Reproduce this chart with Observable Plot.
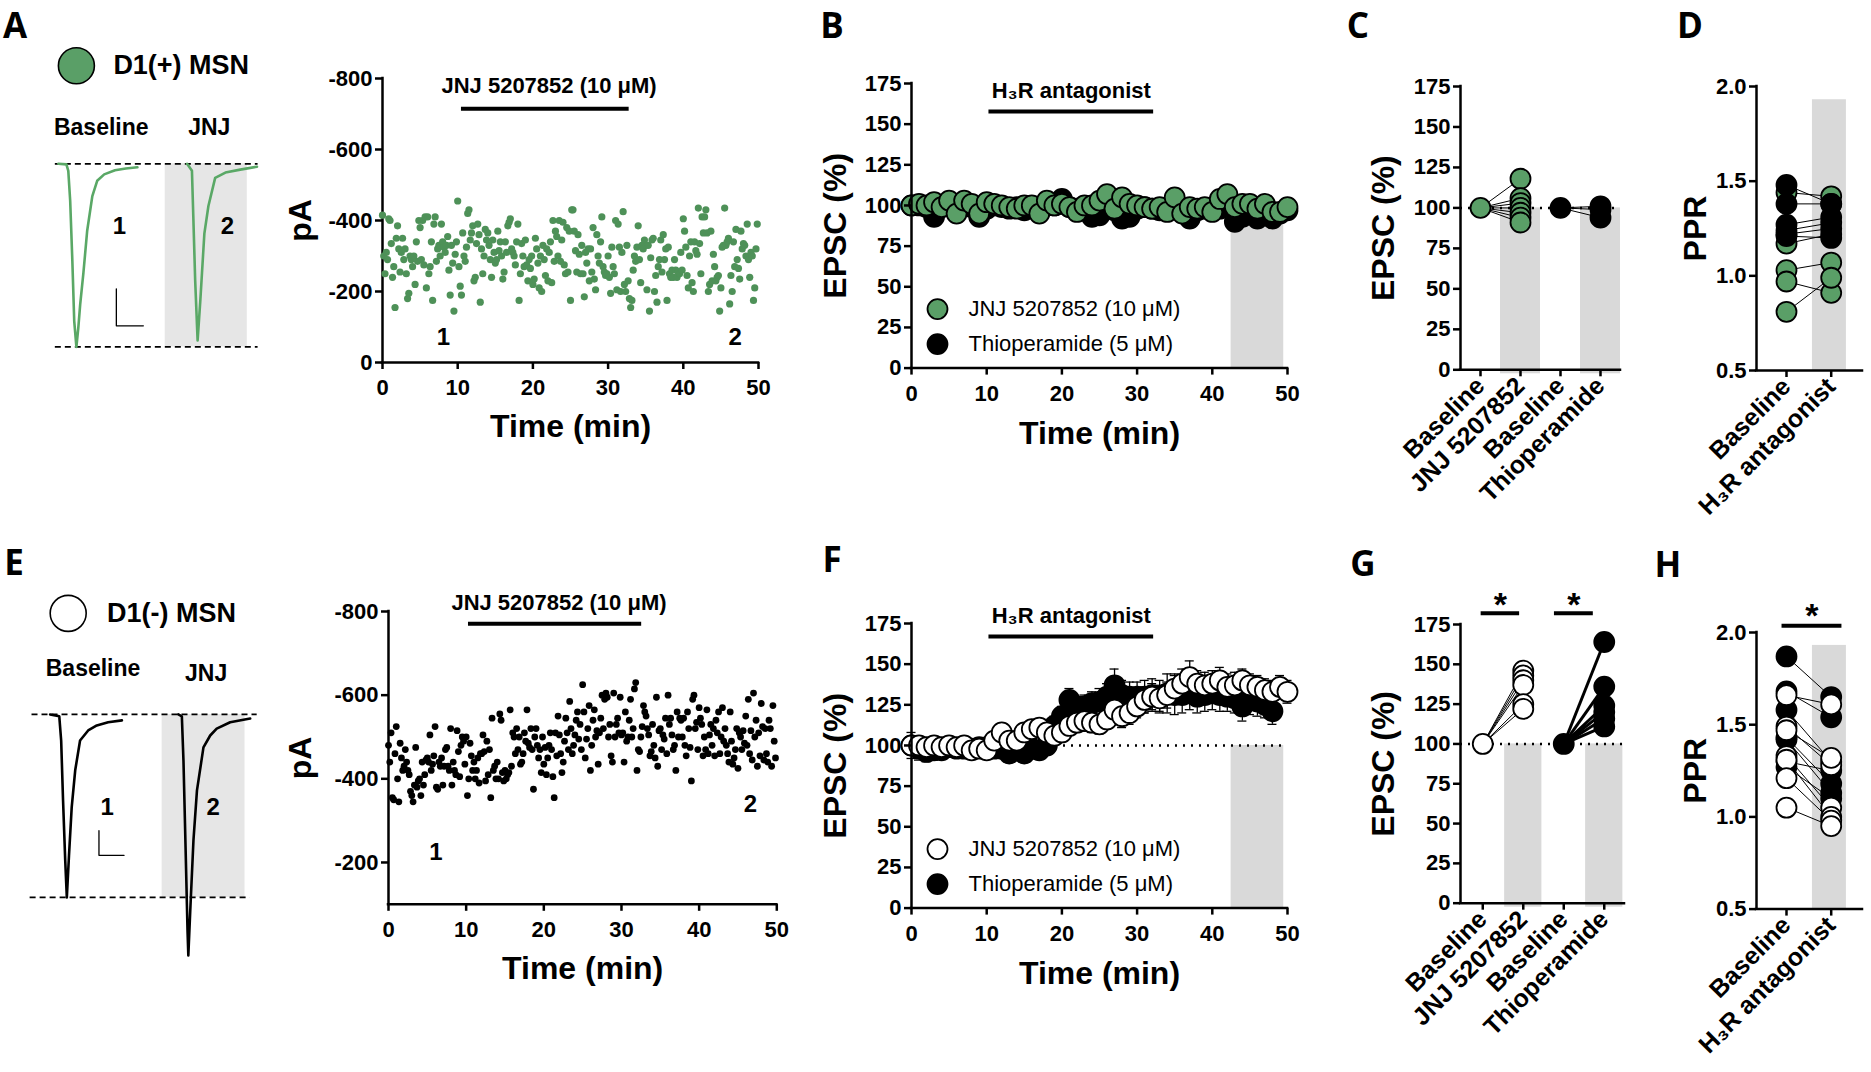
<!DOCTYPE html>
<html><head><meta charset="utf-8">
<script src="https://cdn.jsdelivr.net/npm/d3@7"></script>
<script src="https://cdn.jsdelivr.net/npm/@observablehq/plot@0.6"></script>
<style>
body{margin:0;background:#fff;}
#fig{position:relative;width:1871px;height:1072px;overflow:hidden;background:#fff;}
</style></head><body><div id="fig"></div>
<script>
// ---------------- DATA ----------------
const sweepMin = 1/6; // one sweep every 10 s
const timeTicks = [0,10,20,30,40,50];
// Panel A: D1(+) MSN EPSC amplitude (pA magnitude, plotted negative-up)
const ampA = [
415,300,250,310,290,405, 400,335,240,270,155,350, 385,320,255,310,350,290, 320,250,180,195,300,290,
270,300,220,340,285,400, 380,290,400,275,410,210, 410,250,270,340,175,390, 410,285,320,330,300,390,
340,325,310,330,355,260, 190,330,280,145,305,340, 455,270,215,190,365,300, 285,325,420,430,345,365,
385,230,240,335,390,360, 170,320,250,300,375,345, 365,330,290,240,345,310, 280,290,370,315,340,300,
235,255,340,310,385,395, 405,320,310,300,275,340, 390,175,250,335,300,270, 345,275,230,290,265,300,
220,235,350,320,280,210, 300,200,330,290,245,320, 230,310,340,225,400,285, 370,355,300,400,285,345,
395,275,250,380,255,370, 175,430,430,370,315,255, 360,305,250,330,250,185, 310,280,320,230,320,255,
380,235,205,360,300,280, 340,410,270,255,245,250, 300,240,195,325,270,250, 400,205,390,325,200,310,
425,220,200,330,230,180, 155,175,260,300,285,325, 385,290,225,330,320,345, 330,205,330,145,295,345,
350,200,245,170,270,290, 345,255,360,290,320,175, 325,250,240,260,240,290, 260,240,255,250,310,260,
405,370,325,245,210,300, 340,225,200,340,315,305, 435,335,250,410,365,410, 430,365,200,220,370,230,
305,270,230,240,245,145, 210,325,330,435,330,340, 350,165,245,200,340,270, 375,290,265,235,370,320,
335,330,300,390,290,240, 310,300,175,210,320,390];
// Panel E: D1(-) MSN EPSC amplitude (pA magnitude)
const ampE = [
480,440,510,355,350,460, 525,400,345,485,450,420, 430,470,440,420,410,370, 360,345,385,475,380,395,
400,360,440,385,410,445, 450,440,505,420,435,455, 525,380,375,440,430,450, 385,430,470,475,430,420,
520,385,440,420,410,515, 465,405,480,500,490,435, 500,360,400,485,455,420, 440,400,420,450,390,460,
460,505,465,395,490,410, 470,355,545,420,430,400, 440,400,555,540,415,395, 420,400,410,415,565,430,
510,500,460,520,470,500, 435,440,460,510,490,565, 485,475,520,470,375,500, 520,480,450,470,415,500,
435,475,410,450,480,510, 470,405,355,510,455,550, 505,460,415,440,490,545, 510,470,585,520,460,480,
505,540,560,495,530,470, 625,560,450,495,520,575, 420,480,540,565,500,515, 435,510,545,600,520,590,
605,595,500,530,455,440, 605,500,530,545,510,595, 505,510,440,560,490,500, 540,590,500,520,615,630,
420,470,465,500,525,575, 560,550,520,505,455,465, 530,480,450,595,430,515, 520,470,505,495,545,460,
600,530,545,505,470,480, 420,560,500,545,540,500, 545,480,455,560,520,475, 395,590,600,520,535,470,
570,545,530,455,500,470, 565,460,505,530,480,520, 455,540,510,560,460,500, 570,490,520,480,460,440,
560,490,435,450,470,520, 425,510,500,470,515,485, 550,480,590,460,515,445, 605,500,540,430,510,455,
580,525,445,520,460,440, 540,520,430,575,490,450];
const traceTimesA = [8.1, 46.9];   // where traces 1 and 2 were taken (min)
const traceLevelA = 70;
const traceTimesE = [6.1, 46.6];
const traceLevelsE = [224, 340];
const drugA = [10.5, 32.8], drugE = [10.3, 32.6], drugBF = [10.3, 32.2];
const washWin = [42.5, 49.5];
// Panels B / F: normalised EPSC (%), one point per minute
const minutes = d3.range(0, 51);
const epscB_JNJ = [100,101,100,102,99,103,95,103,101,95, 102,101,100,99,98,100,100,95,103,100,
  101,99,96,100,100,103,107,98,105,101, 100,99,98,99,96,105,95,99,98,99, 96,104,107,99,101,101,98,101,96,96, 99];
const epscB_Thio = [100,100,99,93,99,100,98,100,99,93, 98,100,99,98,99,97,99,98,100,100,
  104,99,98,97,93,94,99,97,92,93, 98,99,98,97,98,99,97,92,97,98, 97,98,100,90,93,97,92,96,92,95, 97];
const epscF_JNJ = [100,100,99,100,99,100,99,100,97,98, 97,103,108,103,103,108,110,111,108,106,
  108,112,114,115,114,113,116,122,118,120, 124,128,130,129,131,135,138,142,138,137, 138,140,136,137,140,137,136,134,133,136, 133];
const semF_JNJ = [3,3,3,3,3,3,3,3,3,3, 3,4,4,4,4,4,4,4,5,5, 5,5,5,6,6,6,6,7,7,7, 7,8,8,8,8,9,9,10,8,8, 8,8,8,8,7,7,7,7,7,7, 7];
const epscF_Thio = [100,98,96,97,97,99,98,98,98,99, 99,98,98,95,97,95,98,97,100,112,
  118,128,123,124,126,127,130,137,131,130, 130,130,131,130,132,131,131,132,130,131, 132,131,130,129,124,128,127,125,121];
const semF_Thio = [8,7,6,6,5,5,5,5,5,5, 5,5,5,5,5,5,5,5,5,6, 6,7,7,7,7,8,8,10,9,9, 9,10,10,10,12,12,11,10,10,10, 10,10,9,9,9,9,9,8,8];
// Panels C / G: paired EPSC (%)
const catsCG = ["Baseline","JNJ 5207852","Baseline","Thioperamide"];
const baselinePct = 100;
const epscC_JNJ = [118,106,103,100,97,94,91];
const epscC_Thio = [101,99,94];
const epscG_JNJ = [146,143,140,137,125,122];
const epscG_Thio = [164,136,124,120,116,111];
// Panels D / H: paired-pulse ratio
const catsDH = ["Baseline","H\u2083R antagonist"];
const pprD_JNJ_base = [1.44,1.17,1.03,0.97,0.81,1.24];
const pprD_JNJ_drug = [1.42,1.22,1.07,0.91,0.99,1.28];
const pprD_Thio_base = [1.48,1.38,1.27,1.22,1.21];
const pprD_Thio_drug = [1.38,1.38,1.31,1.25,1.20];
const pprH_JNJ_base = [1.66,1.49,1.47,1.33,1.31,1.21,1.05];
const pprH_JNJ_drug = [1.61,1.28,1.32,1.05,1.00,0.98,0.95];
const pprH_Thio_base = [1.87,1.68,1.58,1.43,1.42,1.30,1.27];
const pprH_Thio_drug = [1.65,1.54,1.30,1.18,1.13,1.25,1.10];
// Example EPSC traces (ms, pA)
const tA1 = [0,3.0,3.7,4.4,5.2,5.9,6.7,7.4,8.1,9.3,10.7,12.6,14.4,17,21,25,29.3];
const iA1 = [0,-1,-12,-63,-165,-268,-312,-280,-240,-186,-114,-55,-29,-18,-11,-8,-6];
const tA2 = [47.7,49.5,50.0,50.7,51.6,52.6,54.1,55.6,58.1,61.9,67.4,73.6];
const iA2 = [0,-12,-89,-199,-301,-233,-119,-72,-24,-15,-10,-5];
const tE1 = [0,3.4,4.1,4.8,5.6,6.2,7.0,8.0,9.3,11.1,14.1,17.3,21.5,26.6];
const iE1 = [0,-4,-57,-188,-319,-400,-308,-203,-122,-57,-35,-24,-17,-13];
const tE2 = [47.5,48.8,49.4,50.2,50.9,51.2,52.0,53.1,54.4,56.8,59.3,61.7,66.7,74.1];
const iE2 = [0,-4,-101,-297,-472,-527,-417,-275,-166,-72,-46,-31,-17,-9];

// ---------------- STYLE ----------------
const FONT = '"Liberation Sans", Arial, Helvetica, sans-serif';
const GREEN = "#5a9f67", GREEN_DOT = "#4e9158", GREEN_TRACE = "#5aa866";
const GRAY = "#d9d9d9", GRAY_LIGHT = "#e6e6e6";
const AX = {tickSize: 7, tickPadding: 3, strokeWidth: 2.5, label: null, fontSize: 22};
const AXX = {...AX, tickPadding: 10};
const fig = document.getElementById("fig");

function panel(frame, m, opts) {
  const width = frame.x1 - frame.x0 + m[1] + m[3];
  const height = frame.y1 - frame.y0 + m[0] + m[2];
  const svg = Plot.plot({
    width, height, marginTop: m[0], marginRight: m[1], marginBottom: m[2], marginLeft: m[3],
    style: {fontFamily: FONT, fontSize: "22px", fontWeight: "bold", overflow: "visible", background: "transparent", color: "#000"},
    ...opts
  });
  svg.style.position = "absolute";
  svg.style.left = (frame.x0 - m[3]) + "px";
  svg.style.top = (frame.y0 - m[0]) + "px";
  svg.style.maxWidth = "none";
  fig.appendChild(svg);
  return svg;
}
const T = d => d;
const frameLines = (x0, y0) => [
  Plot.ruleX([x0], {strokeWidth: 2.5, strokeLinecap: "square"}),
  Plot.ruleY([y0], {strokeWidth: 2.5, strokeLinecap: "square"})
];
const negFmt = d => d === 0 ? "0" : "-" + d;
const yTitle = (label, dx) => Plot.text([label], {frameAnchor: "left", dx, rotate: -90, text: T, textAnchor: "middle", lineAnchor: "middle", fontSize: 32});
const xTitle = (label, dy) => Plot.text([label], {frameAnchor: "bottom", dy, text: T, textAnchor: "middle", lineAnchor: "middle", fontSize: 32});

// ---------- Example traces (A, E) ----------
function tracePanel(frame, xdom, ydom, cfg) {
  return panel(frame, [0,0,0,0], {
    x: {domain: xdom, axis: null}, y: {domain: ydom, axis: null},
    marks: [
      Plot.rect([cfg.gray], {x1: d => d[0], x2: d => d[1], y1: 0, y2: cfg.peak, fill: GRAY_LIGHT}),
      Plot.ruleY([0], {x1: cfg.dash0[0], x2: cfg.dash0[1], strokeDasharray: "6,4", strokeWidth: 1.8}),
      Plot.ruleY([cfg.peak], {x1: cfg.dash1[0], x2: cfg.dash1[1], strokeDasharray: "6,4", strokeWidth: 1.8}),
      Plot.line(cfg.t1, {x: T, y: (d, i) => cfg.i1[i], stroke: cfg.color, strokeWidth: 2.6}),
      Plot.line(cfg.t2, {x: T, y: (d, i) => cfg.i2[i], stroke: cfg.color, strokeWidth: 2.6}),
      Plot.line([[cfg.sb[0], cfg.sb[1]], [cfg.sb[0], cfg.sb[1] - cfg.sb[3]], [cfg.sb[0] + cfg.sb[2], cfg.sb[1] - cfg.sb[3]]],
        {x: d => d[0], y: d => d[1], stroke: "black", strokeWidth: 1.3}),
      Plot.text(["Baseline", "JNJ"], {x: cfg.labX, y: cfg.labY, text: T, fontSize: 23}),
      Plot.text(["1", "2"], {x: cfg.numX, y: cfg.numY, text: T, fontSize: 24}),
      Plot.dot([cfg.cell], {x: d => d[0], y: d => d[1], r: 18, fill: cfg.cellFill, stroke: "black", strokeWidth: 1.6}),
      Plot.text([cfg.cellLabel], {x: cfg.cell[2], y: cfg.cell[1], text: T, textAnchor: "start", fontSize: 27})
    ]
  });
}
tracePanel({x0: 47.2, x1: 268.6, y0: 39.7, y1: 362.6}, [-4, 78], [-340, 210], {
  gray: [39.6, 70], peak: -312, dash0: [-1.1, 74], dash1: [-1.1, 74],
  t1: tA1, i1: iA1, t2: tA2, i2: iA2, color: GREEN_TRACE,
  sb: [21.5, -213, 10, 63],
  labX: [15.9, 55.9], labY: [61, 61], numX: [22.6, 62.6], numY: [-106, -106],
  cell: [6.7, 167, 20.4], cellFill: GREEN, cellLabel: "D1(+) MSN"
});
tracePanel({x0: 28.4, x1: 260.6, y0: 579.0, y1: 965.6}, [-8, 78], [-550, 295], {
  gray: [41.5, 72.2], peak: -400, dash0: [-6.7, 76.7], dash1: [-7.4, 74.1],
  t1: tE1, i1: iE1, t2: tE2, i2: iE2, color: "black",
  sb: [18.1, -254, 9.3, 54],
  labX: [15.9, 57.8], labY: [100, 90], numX: [21.1, 60.4], numY: [-203, -203],
  cell: [6.7, 221, 21.1], cellFill: "white", cellLabel: "D1(-) MSN"
});

// ---------- Scatter panels (A, E) ----------
function scatterPanel(frame, amps, ydom, yticks, drug, barLvl, labLvl, numX, numY, fill, r, pAdx) {
  panel(frame, [50, 30, 90, 100], {
    x: {domain: [0, 50]}, y: {domain: ydom},
    marks: [
      ...frameLines(0, ydom[0]),
      Plot.axisX({...AXX, ticks: timeTicks}),
      Plot.axisY({...AX, ticks: yticks, tickFormat: negFmt}),
      Plot.dot(amps, {x: (d, i) => i * sweepMin, y: T, r, fill}),
      Plot.ruleY([barLvl], {x1: drug[0], x2: drug[1], strokeWidth: 4}),
      Plot.text(["JNJ 5207852 (10 \u03bcM)"], {x: (drug[0] + drug[1]) / 2 + 0.5, y: labLvl, text: T, fontSize: 22}),
      Plot.text(["1", "2"], {x: numX, y: numY, text: T, fontSize: 24}),
      xTitle("Time (min)", 64),
      yTitle("pA", pAdx)
    ]
  });
}
scatterPanel({x0: 382, x1: 758, y0: 78, y1: 362}, ampA, [0, 800], [0, 200, 400, 600, 800],
  drugA, 715, 780, traceTimesA, [traceLevelA, traceLevelA], GREEN_DOT, 3.6, -82);
scatterPanel({x0: 387.7, x1: 776, y0: 610.7, y1: 903.5}, ampE, [100, 800], [200, 400, 600, 800],
  drugE, 771, 821, traceTimesE, traceLevelsE, "black", 3.4, -88);

// ---------- Time course panels (B, F) ----------
function timeCourse(frame, cfg) {
  const marks = [
    Plot.rect([washWin], {x1: d => d[0], x2: d => d[1], y1: 0, y2: 100, fill: GRAY}),
  ];
  if (cfg.dotted) marks.push(Plot.ruleY([100], {strokeDasharray: "2,6", strokeWidth: 2.5}));
  if (cfg.semThio) {
    const eb = (arr, sem) => [
      Plot.ruleX(arr, {x: (d, i) => i, y1: (d, i) => d - sem[i], y2: (d, i) => d + sem[i], strokeWidth: 1.3}),
      Plot.ruleY(arr, {y: (d, i) => d + sem[i], x1: (d, i) => i - 0.6, x2: (d, i) => i + 0.6, strokeWidth: 1.3}),
      Plot.ruleY(arr, {y: (d, i) => d - sem[i], x1: (d, i) => i - 0.6, x2: (d, i) => i + 0.6, strokeWidth: 1.3})
    ];
    marks.push(...eb(cfg.thio, cfg.semThio), ...eb(cfg.jnj, cfg.semJNJ));
  }
  marks.push(
    Plot.dot(cfg.thio, {x: (d, i) => minutes[i], y: T, r: 10, fill: "black", stroke: "black", strokeWidth: 1.8}),
    Plot.dot(cfg.jnj, {x: (d, i) => minutes[i], y: T, r: 10, fill: cfg.jnjFill, stroke: "black", strokeWidth: 1.8}),
    ...frameLines(0, 0),
    Plot.axisX({...AXX, ticks: timeTicks}),
    Plot.axisY({...AX, ticks: [0, 25, 50, 75, 100, 125, 150, 175]}),
    Plot.ruleY([cfg.barLvl], {x1: drugBF[0], x2: drugBF[1], strokeWidth: 4}),
    Plot.text(["H\u2083R antagonist"], {x: (drugBF[0] + drugBF[1]) / 2, y: cfg.labLvl, text: T, fontSize: 22}),
    Plot.dot([0], {frameAnchor: "bottom-left", dx: 26, dy: -59, r: 10, fill: cfg.jnjFill, stroke: "black", strokeWidth: 1.8}),
    Plot.dot([0], {frameAnchor: "bottom-left", dx: 26, dy: -24, r: 10, fill: "black", stroke: "black", strokeWidth: 1.8}),
    Plot.text(["JNJ 5207852 (10 \u03bcM)"], {frameAnchor: "bottom-left", dx: 57, dy: -59, text: T, textAnchor: "start", lineAnchor: "middle", fontWeight: "normal", fontSize: 22}),
    Plot.text(["Thioperamide (5 \u03bcM)"], {frameAnchor: "bottom-left", dx: 57, dy: -24, text: T, textAnchor: "start", lineAnchor: "middle", fontWeight: "normal", fontSize: 22}),
    xTitle("Time (min)", 66),
    yTitle("EPSC (%)", -76)
  );
  panel(frame, [60, 30, 90, 110], {x: {domain: [0, 50]}, y: {domain: [0, 175]}, marks});
}
timeCourse({x0: 910.7, x1: 1286.7, y0: 82.7, y1: 367.3}, {
  jnj: epscB_JNJ, thio: epscB_Thio, jnjFill: GREEN, barLvl: 157.8, labLvl: 170.5, dotted: false
});
timeCourse({x0: 910.7, x1: 1286.7, y0: 622.7, y1: 907.3}, {
  jnj: epscF_JNJ, thio: epscF_Thio, semJNJ: semF_JNJ, semThio: semF_Thio, jnjFill: "white", barLvl: 167, labLvl: 179.7, dotted: true
});

// ---------- Paired EPSC panels (C, G) ----------
const CAT = {...AX, tickRotate: -45, tickPadding: 5, fontSize: 25};
function pairedEPSC(frame, xdom, cfg) {
  const marks = [
    Plot.rect([1, 3], {x1: d => d - cfg.barHalf, x2: d => d + cfg.barHalf, y1: 0, y2: 100, fill: GRAY, insetBottom: -4}),
    Plot.ruleY([100], {strokeDasharray: "2,6", strokeWidth: 2.5}),
    Plot.link(cfg.jnj, {x1: 0, y1: baselinePct, x2: 1, y2: T, strokeWidth: 1}),
    Plot.link(cfg.thio, {x1: 2, y1: baselinePct, x2: 3, y2: T, strokeWidth: cfg.thioLine}),
    Plot.dot([baselinePct], {x: 0, y: T, r: 10, fill: cfg.jnjFill, stroke: "black", strokeWidth: 1.8}),
    Plot.dot(cfg.jnj, {x: 1, y: T, r: 10, fill: cfg.jnjFill, stroke: "black", strokeWidth: 1.8}),
    Plot.dot([baselinePct], {x: 2, y: T, r: 10, fill: "black", stroke: "black", strokeWidth: 1.8}),
    Plot.dot(cfg.thio, {x: 3, y: T, r: 10, fill: "black", stroke: "black", strokeWidth: 1.8}),
    ...frameLines(xdom[0], 0),
    Plot.axisX({...CAT, ticks: [0, 1, 2, 3], tickFormat: i => catsCG[i]}),
    Plot.axisY({...AX, ticks: [0, 25, 50, 75, 100, 125, 150, 175]}),
    yTitle("EPSC (%)", -77)
  ];
  if (cfg.sig) {
    marks.push(
      Plot.ruleY(cfg.sig, {y: 182, x1: d => d[0], x2: d => d[1], strokeWidth: 4}),
      Plot.text(cfg.sig, {x: d => (d[0] + d[1]) / 2, y: 187, text: () => "*", fontSize: 34})
    );
  }
  panel(frame, [60, 20, 160, 110], {x: {domain: xdom}, y: {domain: [0, 175]}, marks});
}
pairedEPSC({x0: 1460, x1: 1620, y0: 86, y1: 369.3}, [-0.5, 3.5], {
  jnj: epscC_JNJ, thio: epscC_Thio, jnjFill: GREEN, thioLine: 1, barHalf: 0.5
});
pairedEPSC({x0: 1460, x1: 1624, y0: 624, y1: 902.7}, [-0.55, 3.5], {
  jnj: epscG_JNJ, thio: epscG_Thio, jnjFill: "white", thioLine: 3, barHalf: 0.46,
  sig: [[-0.04, 0.91], [1.77, 2.73]]
});

// ---------- PPR panels (D, H) ----------
function pprPanel(frame, cfg) {
  const pairs = (b, a) => b.map((v, i) => ({b: v, a: a[i]}));
  const first = pairs(cfg.firstBase, cfg.firstDrug), second = pairs(cfg.secondBase, cfg.secondDrug);
  const marks = [
    Plot.rect([1], {x1: 0.58, x2: 1.34, y1: 0.5, y2: 1.93, fill: GRAY}),
    Plot.link(first, {x1: 0, y1: "b", x2: 1, y2: "a", strokeWidth: 1}),
    Plot.link(second, {x1: 0, y1: "b", x2: 1, y2: "a", strokeWidth: 1}),
    Plot.dot(first, {x: 0, y: "b", r: 10, fill: cfg.firstFill, stroke: "black", strokeWidth: 1.8}),
    Plot.dot(first, {x: 1, y: "a", r: 10, fill: cfg.firstFill, stroke: "black", strokeWidth: 1.8}),
    Plot.dot(second, {x: 0, y: "b", r: 10, fill: cfg.secondFill, stroke: "black", strokeWidth: 1.8}),
    Plot.dot(second, {x: 1, y: "a", r: 10, fill: cfg.secondFill, stroke: "black", strokeWidth: 1.8}),
    ...frameLines(-0.671, 0.5),
    Plot.axisX({...CAT, ticks: [0, 1], tickFormat: i => catsDH[i]}),
    Plot.axisY({...AX, ticks: [0.5, 1.0, 1.5, 2.0], tickFormat: d3.format(".1f")}),
    yTitle("PPR", -61)
  ];
  if (cfg.sig) {
    marks.push(
      Plot.ruleY([2.036], {x1: cfg.sig[0], x2: cfg.sig[1], strokeWidth: 4}),
      Plot.text(["*"], {x: (cfg.sig[0] + cfg.sig[1]) / 2, y: 2.088, text: T, fontSize: 34})
    );
  }
  panel(frame, [60, 10, 180, 100], {x: {domain: [-0.671, 1.70]}, y: {domain: [0.5, 2.0]}, marks});
}
pprPanel({x0: 1756, x1: 1862, y0: 86, y1: 370}, {
  firstBase: pprD_JNJ_base, firstDrug: pprD_JNJ_drug, firstFill: GREEN,
  secondBase: pprD_Thio_base, secondDrug: pprD_Thio_drug, secondFill: "black"
});
pprPanel({x0: 1756, x1: 1862, y0: 631.7, y1: 908.3}, {
  firstBase: pprH_Thio_base, firstDrug: pprH_Thio_drug, firstFill: "black",
  secondBase: pprH_JNJ_base, secondDrug: pprH_JNJ_drug, secondFill: "white",
  sig: [-0.1, 1.24]
});

// ---------- Panel letters ----------
const letters = ["A","B","C","D","E","F","G","H"];
const letterPos = [[15,25.5],[832,25.5],[1358,25.5],[1690,25.5],[14,562],[832,559],[1363,563],[1668,564]];
const ov = d3.select(fig).append("svg").attr("width", 1871).attr("height", 1072)
  .style("position", "absolute").style("left", "0px").style("top", "0px").style("pointer-events", "none");
ov.selectAll("text").data(letters).join("text")
  .attr("x", (d, i) => letterPos[i][0]).attr("y", (d, i) => letterPos[i][1] + 12.5)
  .attr("text-anchor", "middle").attr("font-family", '"Open Sans", sans-serif')
  .attr("font-weight", 700).attr("font-size", 35).text(d => d);
</script></body></html>
